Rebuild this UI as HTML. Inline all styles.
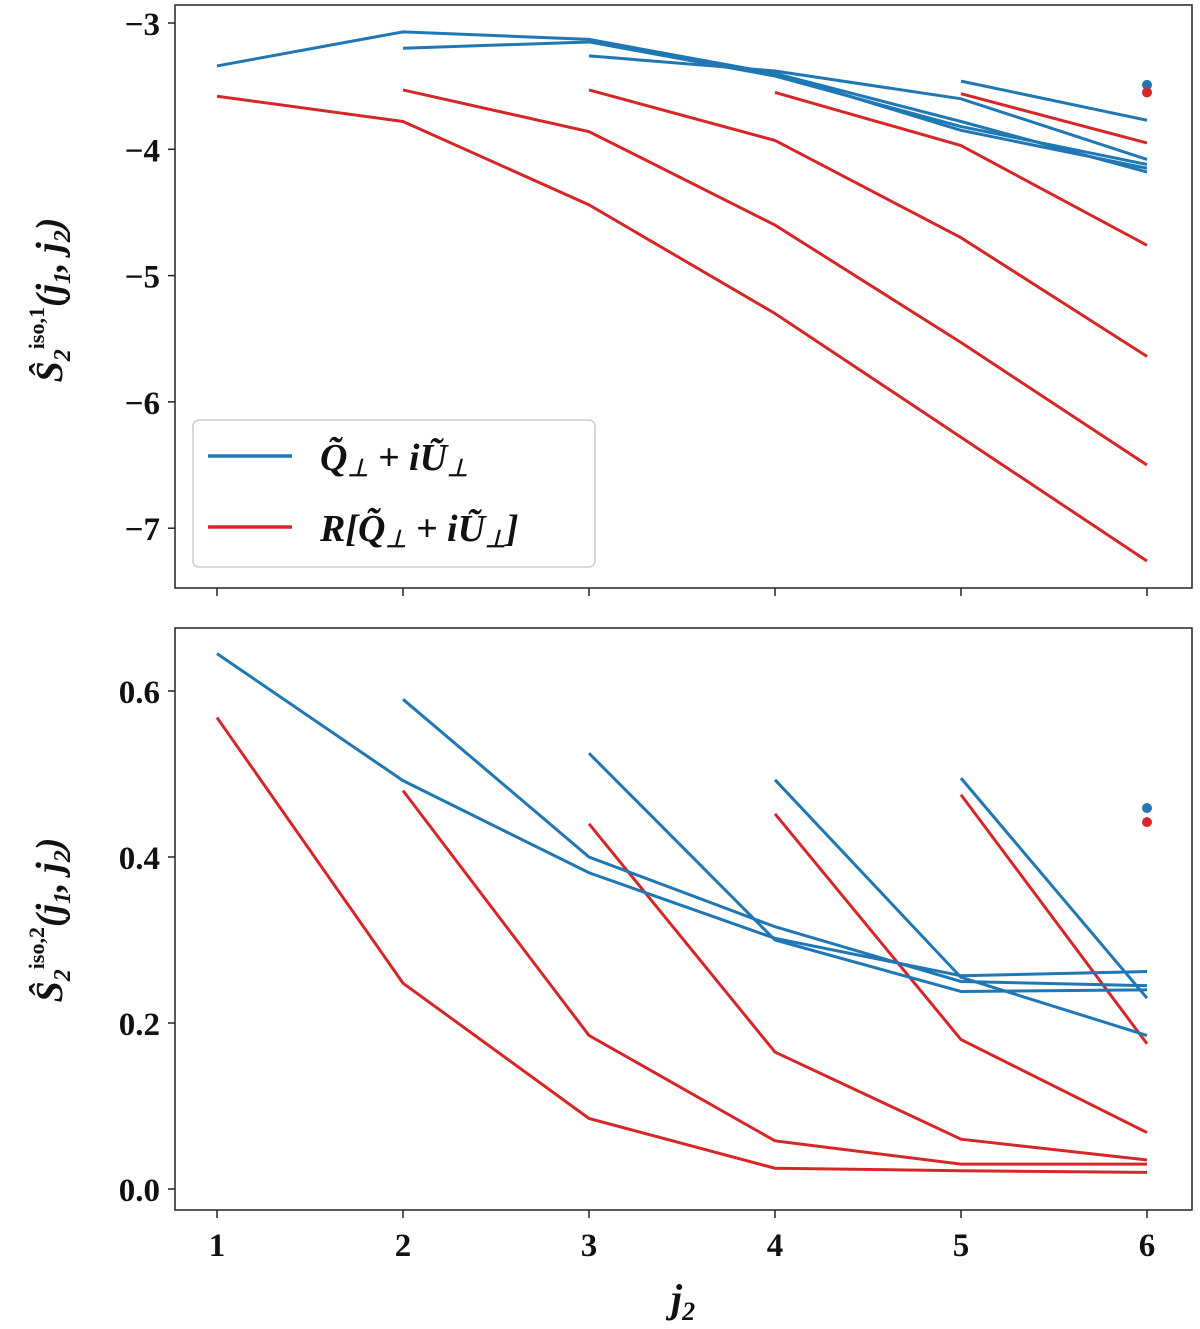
<!DOCTYPE html>
<html><head><meta charset="utf-8"><style>
body{margin:0;background:#fff;}
svg text{font-family:"Liberation Serif",serif;font-weight:bold;fill:#111;}
</style></head><body>
<svg id="chart" width="1200" height="1324" xmlns="http://www.w3.org/2000/svg">
<g id="top"></g>
<g id="bot"></g>
<text x="683" y="1312" font-size="40" font-style="italic" text-anchor="middle">j<tspan font-size="26" dy="8">2</tspan></text>
<text transform="translate(62,300) rotate(-90)" font-size="38" font-style="italic" text-anchor="middle">Ŝ<tspan font-size="24" dy="8">2</tspan><tspan font-size="22" dy="-26" font-style="normal">iso,1</tspan><tspan dy="18">(j</tspan><tspan font-size="24" dy="8">1</tspan><tspan dy="-8">, j</tspan><tspan font-size="24" dy="8">2</tspan><tspan dy="-8">)</tspan></text>
<text transform="translate(62,920) rotate(-90)" font-size="38" font-style="italic" text-anchor="middle">Ŝ<tspan font-size="24" dy="8">2</tspan><tspan font-size="22" dy="-26" font-style="normal">iso,2</tspan><tspan dy="18">(j</tspan><tspan font-size="24" dy="8">1</tspan><tspan dy="-8">, j</tspan><tspan font-size="24" dy="8">2</tspan><tspan dy="-8">)</tspan></text>
</svg>
<script>
const xTicks=[1,2,3,4,5,6];
const topTicks=[-3,-4,-5,-6,-7];
const botTicks=[0.6,0.4,0.2,0.0];
const topBlue=[[-3.34,-3.07,-3.13,-3.40,-3.78,-4.18],[-3.20,-3.15,-3.42,-3.82,-4.12],[-3.26,-3.38,-3.60,-4.08],[-3.40,-3.85,-4.15],[-3.46,-3.77]];
const topRed=[[-3.58,-3.78,-4.44,-5.30,-6.28,-7.26],[-3.53,-3.86,-4.60,-5.53,-6.50],[-3.53,-3.93,-4.70,-5.64],[-3.55,-3.97,-4.76],[-3.56,-3.95]];
const topDots=[-3.49,-3.55];
const botBlue=[[0.645,0.492,0.381,0.302,0.257,0.262],[0.59,0.40,0.316,0.25,0.245],[0.525,0.30,0.238,0.24],[0.493,0.255,0.185],[0.495,0.23]];
const botRed=[[0.568,0.248,0.085,0.025,0.022,0.020],[0.48,0.185,0.058,0.030,0.030],[0.44,0.165,0.060,0.035],[0.452,0.18,0.068],[0.475,0.175]];
const botDots=[0.459,0.442];
const NS="http://www.w3.org/2000/svg";
const BLUE="#1f77b4",RED="#d62728";
const xs=j=>217+(j-1)*186;
function mk(p,t,a){const e=document.createElementNS(NS,t);for(const k in a)e.setAttribute(k,a[k]);p.appendChild(e);return e;}
function panel(g,top,bottom,ys,ticks,fmt,blue,red,dots,showX){
  const fr=mk(g,'rect',{x:175,y:top,width:1017,height:bottom-top,fill:'none',stroke:'#222','stroke-width':1.5});
  
  ticks.forEach(v=>{const y=ys(v);mk(g,'line',{x1:168,x2:175,y1:y,y2:y,stroke:'#222','stroke-width':1.5});
    const t=mk(g,'text',{x:160,y:y+12,'font-size':33,'text-anchor':'end'});t.textContent=fmt(v);
    });
  xTicks.forEach(j=>{mk(g,'line',{x1:xs(j),x2:xs(j),y1:bottom,y2:bottom+8,stroke:'#222','stroke-width':1.5});
    if(showX){const t=mk(g,'text',{x:xs(j),y:bottom+46,'font-size':33,'text-anchor':'middle'});t.textContent=j;
    }});
  [[red,RED],[blue,BLUE]].forEach(([ser,c])=>ser.forEach((vals,i)=>{
    const pts=vals.map((v,k)=>xs(i+1+k)+','+ys(v)).join(' ');
    const l=mk(g,'polyline',{points:pts,fill:'none',stroke:c,'stroke-width':3});
    }));
  dots.forEach((v,i)=>{const d=mk(g,'circle',{cx:xs(6),cy:ys(v),r:5,fill:i?RED:BLUE});
    });
}
panel(document.getElementById('top'),5,588,v=>23+(-3-v)*126.3,topTicks,v=>'−'+Math.abs(v),topBlue,topRed,topDots,false);
panel(document.getElementById('bot'),628,1210,v=>1189-v*830,botTicks,v=>v.toFixed(1),botBlue,botRed,botDots,true);
const g=document.getElementById('top');
const lg=mk(g,'g',{});
mk(lg,'rect',{x:193,y:420,width:402,height:147,rx:6,fill:'#fff',stroke:'#ccc','stroke-width':1.5});
mk(lg,'line',{x1:208,x2:292,y1:456,y2:456,stroke:BLUE,'stroke-width':3.5});
mk(lg,'line',{x1:208,x2:292,y1:527,y2:527,stroke:RED,'stroke-width':3.5});
const t1=mk(lg,'text',{x:320,y:470,'font-size':38,'font-style':'italic'});
t1.innerHTML='Q̃<tspan font-size="24" dy="6">⊥</tspan><tspan dy="-6"> + iŨ</tspan><tspan font-size="24" dy="6">⊥</tspan>';

const t2=mk(lg,'text',{x:320,y:541,'font-size':38,'font-style':'italic'});
t2.innerHTML='R[Q̃<tspan font-size="24" dy="6">⊥</tspan><tspan dy="-6"> + iŨ</tspan><tspan font-size="24" dy="6">⊥</tspan><tspan dy="-6">]</tspan>';

</script>
</body></html>
